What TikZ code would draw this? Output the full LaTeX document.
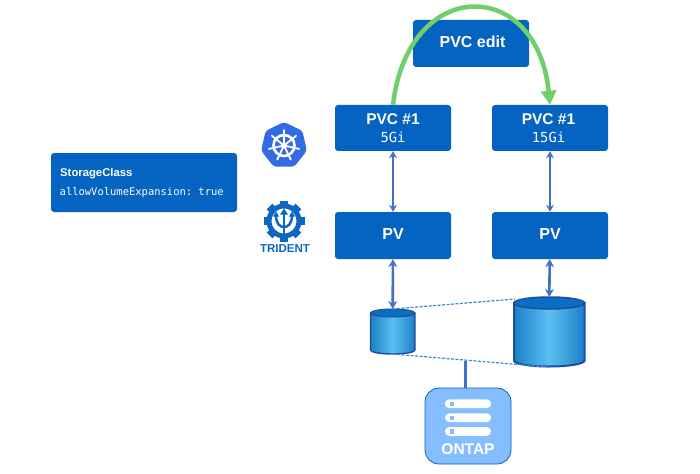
\documentclass[tikz,border=0pt]{standalone}
\usepackage{fontspec}
\setmainfont{Liberation Sans}
\setmonofont{DejaVu Sans Mono}
\usetikzlibrary{arrows.meta,shapes.geometric}

\definecolor{boxblue}{HTML}{0563C1}
\definecolor{arrowblue}{HTML}{4472C4}
\definecolor{arcgreen}{HTML}{70CF6A}
\definecolor{kubeblue}{HTML}{326CE5}
\definecolor{tridentblue}{HTML}{0B67C2}
\definecolor{diskedge}{HTML}{1C4E9C}
\definecolor{disktop}{HTML}{0A6FC0}
\definecolor{diskdark}{HTML}{1B80C6}
\definecolor{disklight}{HTML}{5CBFF2}
\definecolor{dashblue}{HTML}{3F8AD6}
\definecolor{ontapblue}{HTML}{85BEFF}

\tikzset{
    bluebox/.style={fill=boxblue, text=white, rounded corners=3pt, align=center,
        minimum width=116pt, minimum height=47pt, inner sep=0pt},
    boldtext/.style={font=\fontsize{16}{19}\selectfont\bfseries, text depth=3.5pt},
    updown/.style={{Stealth[length=7pt,width=8pt]}-{Stealth[length=7pt,width=8pt]}, arrowblue, line width=2.4pt},
    downlink/.style={{Stealth[length=8pt,width=9pt]}-{Stealth[length=8pt,width=9pt]}, arrowblue, line width=2.6pt},
    diskspot/.style={inner sep=0pt, outer sep=0pt},
    diskline/.style={dash pattern=on 3pt off 1.5pt, dashblue, line width=1.2pt}
}

\begin{document}
\begin{tikzpicture}[x=1pt, y=-1pt]
    \useasboundingbox (0,0) rectangle (700,473);

    % Boxes
    \node[bluebox, boldtext] (edit) at (471,43.5) {\hspace*{3pt}PVC edit};
    \node[bluebox, minimum height=46pt] (pvcsmall) at (393,128) {{\fontsize{15.5}{18}\selectfont\bfseries PVC \#1}\\[6pt]{\fontsize{13.8}{16}\ttfamily\selectfont 5Gi}};
    \node[bluebox, minimum height=46pt] (pvcbig) at (550,128) {{\fontsize{15.5}{18}\selectfont\bfseries\hspace*{-3pt}PVC \#1}\\[6pt]{\fontsize{13.8}{16}\ttfamily\selectfont\hspace*{-3pt}15Gi}};
    \node[bluebox, boldtext] (pvsmall) at (393,235.5) {PV};
    \node[bluebox, boldtext] (pvbig) at (550,235.5) {PV};
    \node[bluebox, minimum width=186pt, minimum height=59pt] (storage) at (144,182.5) {};
    \node[text=white, anchor=west, inner sep=0pt, font=\fontsize{11.3}{13}\selectfont\bfseries] (storagename) at (60,174) {StorageClass};
    \node[text=white, anchor=west, inner sep=0pt, font=\fontsize{10.48}{12}\ttfamily\selectfont] (storageflag) at (59.5,193) {allowVolumeExpansion: true};

    % Kubernetes logo
    \node[regular polygon, regular polygon sides=7, fill=kubeblue, rounded corners=3pt, minimum size=47pt, inner sep=0pt] (kubelogo) at (284,145.5) {};
    \begin{scope}[shift={(284,145.5)}, white]
        \draw[line width=2.6pt] (0,0) circle[radius=10.5];
        \fill (0,0) circle[radius=3.2];
        \foreach \a in {0,...,6}
            \draw[line width=1.8pt, line cap=round] (-90+\a*51.43:3) -- (-90+\a*51.43:15.5);
    \end{scope}

    % Trident logo
    \begin{scope}[shift={(284,221)}, tridentblue]
        \foreach \a in {0,45,...,315}
            \draw[line width=8pt] (\a:15) -- (\a:20.5);
        \draw[line width=5pt, fill=white] (0,0) circle[radius=15];
        \draw[line width=2.4pt] (0,13) -- (0,-9);
        \fill (0,-12.5) -- (4,-6.5) -- (-4,-6.5) -- cycle;
        \draw[line width=2.4pt] (-8,-6) .. controls (-8,3) and (-4,6) .. (0,6);
        \draw[line width=2.4pt] (8,-6) .. controls (8,3) and (4,6) .. (0,6);
        \fill (-8,-9.5) -- (-5,-4.5) -- (-11,-4.5) -- cycle;
        \fill (8,-9.5) -- (11,-4.5) -- (5,-4.5) -- cycle;
    \end{scope}
    \node[text=tridentblue, inner sep=0pt, font=\fontsize{11.5}{13}\selectfont\bfseries] (tridentname) at (285,249) {TRIDENT};

    % Small disk
    \node[diskspot, minimum width=45pt, minimum height=45pt] (smalldisk) at (392.7,331.5) {};
    \shade[left color=diskdark, right color=diskdark, middle color=disklight, draw=diskedge, line width=1.4pt]
        (370.5,313) -- (370.5,350) arc[x radius=22.2, y radius=-4, start angle=180, end angle=360] -- (414.9,313) -- cycle;
    \draw[fill=disktop, draw=diskedge, line width=1pt] (392.7,313) ellipse[x radius=22.2, y radius=4];

    % Big disk
    \node[diskspot, minimum width=71pt, minimum height=70pt] (bigdisk) at (549.3,332) {};
    \shade[left color=diskdark, right color=diskdark, middle color=disklight, draw=diskedge, line width=2pt]
        (514,303) -- (514,360.5) arc[x radius=35.3, y radius=-6, start angle=180, end angle=360] -- (584.6,303) -- cycle;
    \draw[fill=disktop, draw=diskedge, line width=1.5pt] (549.3,303) ellipse[x radius=35.3, y radius=6];

    % Dashed lines between the disks
    \coordinate (bigtop) at (515,299);
    \coordinate (bigbottom) at (548,367);
    \draw[diskline] (smalldisk.north) -- (bigtop);
    \draw[diskline] (smalldisk.south) -- (bigbottom);

    % ONTAP
    \node[fill=ontapblue, draw=boxblue, line width=0.8pt, rounded corners=14pt, minimum width=86pt, minimum height=76pt, inner sep=0pt] (ontap) at (468,426) {};
    \foreach \y in {403.7,417.7,431.4} {
        \fill[white, rounded corners=4.3pt] (445,\y-4.4) rectangle (491,\y+4.4);
        \fill[ontapblue] (449.7,\y-2.2) rectangle (454,\y+2.2);
    }
    \node[text=white, inner sep=0pt, font=\fontsize{15.5}{18}\selectfont\bfseries] (ontapname) at (468,449) {ONTAP};
    \coordinate (joint) at (465.5,361);
    \draw[arrowblue, line width=2.6pt] (joint) -- (joint |- ontap.north);

    % Arrows
    \draw[updown] (pvcsmall) -- (pvsmall);
    \draw[updown] (pvcbig) -- (pvbig);
    \draw[downlink] (pvsmall) -- (smalldisk.north);
    \draw[downlink] (pvbig) -- (bigdisk.north);

    % Resize arc
    \draw[-{Triangle[length=14pt,width=15pt]}, arcgreen, line width=4.5pt]
        (pvcsmall.north) .. controls (408,-24) and (537,-24) .. (pvcbig.north);
\end{tikzpicture}
\end{document}
